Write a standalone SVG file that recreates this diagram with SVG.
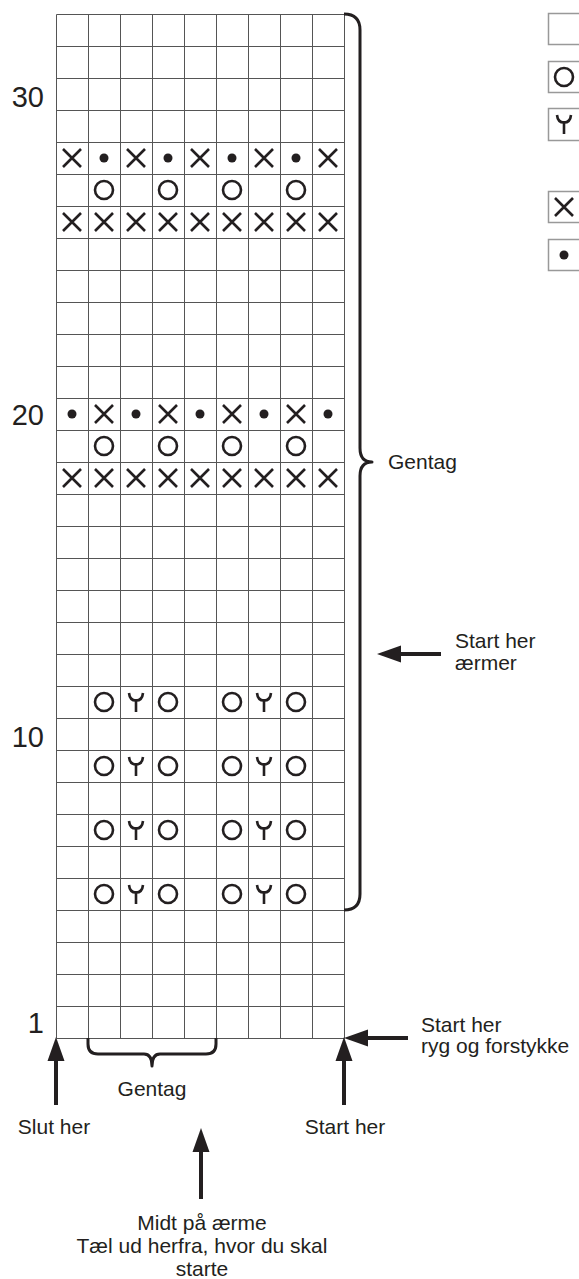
<svg xmlns="http://www.w3.org/2000/svg" xmlns:xlink="http://www.w3.org/1999/xlink" width="579" height="1279" viewBox="0 0 579 1279">
<style>
.grid{fill:none;stroke:#555;stroke-width:1}
.sym{fill:none;stroke:#231f20;stroke-width:2.6;stroke-linecap:butt}
.dot{fill:#231f20}
.lbl{font-family:"Liberation Sans",Arial,sans-serif;font-size:21px;fill:#231f20}
.num{font-family:"Liberation Sans",Arial,sans-serif;font-size:29px;fill:#231f20;text-anchor:end}
.brace{fill:none;stroke:#231f20;stroke-width:3;stroke-linejoin:round}
.arrow{fill:none;stroke:#231f20;stroke-width:4}
.key{fill:#fff;stroke:#999;stroke-width:1.5}
</style>
<defs>
<marker id="ah" viewBox="0 -9 24 18" refX="0" refY="0" markerWidth="24" markerHeight="18" markerUnits="userSpaceOnUse" orient="auto" overflow="visible">
<path d="M0,-8.5 L24,0 L0,8.5 z" fill="#231f20"/>
</marker>
<g id="sx"><path class="sym" d="M-9,-9 L9,9 M9,-9 L-9,9"/></g>
<g id="so"><circle class="sym" r="9" cx="0" cy="0"/></g>
<g id="sd"><circle class="dot" r="4.5" cx="0" cy="0"/></g>
<g id="sy"><path class="sym" d="M-7,-9 C-6.5,-4 -3.5,-1.5 0,-1.5 C3.5,-1.5 6.5,-4 7,-9" stroke-width="2.3"/><path class="sym" d="M0,-3 V10" stroke-width="4"/></g>
</defs>
<rect width="579" height="1279" fill="#fff"/>

<g id="chart">
<path class="grid" transform="translate(0.5 0.5)" d="M56 14V1038M88 14V1038M120 14V1038M152 14V1038M184 14V1038M216 14V1038M248 14V1038M280 14V1038M312 14V1038M344 14V1038
M56 14H344M56 46H344M56 78H344M56 110H344M56 142H344M56 174H344M56 206H344M56 238H344M56 270H344M56 302H344M56 334H344M56 366H344M56 398H344M56 430H344M56 462H344M56 494H344M56 526H344M56 558H344M56 590H344M56 622H344M56 654H344M56 686H344M56 718H344M56 750H344M56 782H344M56 814H344M56 846H344M56 878H344M56 910H344M56 942H344M56 974H344M56 1006H344M56 1038H344"/>
</g>

<g id="row28">
<use xlink:href="#sx" x="72" y="158"/><use xlink:href="#sd" x="104" y="158"/><use xlink:href="#sx" x="136" y="158"/><use xlink:href="#sd" x="168" y="158"/><use xlink:href="#sx" x="200" y="158"/><use xlink:href="#sd" x="232" y="158"/><use xlink:href="#sx" x="264" y="158"/><use xlink:href="#sd" x="296" y="158"/><use xlink:href="#sx" x="328" y="158"/>
</g>
<g id="row27">
<use xlink:href="#so" x="104" y="190"/><use xlink:href="#so" x="168" y="190"/><use xlink:href="#so" x="232" y="190"/><use xlink:href="#so" x="296" y="190"/>
</g>
<g id="row26">
<use xlink:href="#sx" x="72" y="222"/><use xlink:href="#sx" x="104" y="222"/><use xlink:href="#sx" x="136" y="222"/><use xlink:href="#sx" x="168" y="222"/><use xlink:href="#sx" x="200" y="222"/><use xlink:href="#sx" x="232" y="222"/><use xlink:href="#sx" x="264" y="222"/><use xlink:href="#sx" x="296" y="222"/><use xlink:href="#sx" x="328" y="222"/>
</g>
<g id="row20">
<use xlink:href="#sd" x="72" y="414"/><use xlink:href="#sx" x="104" y="414"/><use xlink:href="#sd" x="136" y="414"/><use xlink:href="#sx" x="168" y="414"/><use xlink:href="#sd" x="200" y="414"/><use xlink:href="#sx" x="232" y="414"/><use xlink:href="#sd" x="264" y="414"/><use xlink:href="#sx" x="296" y="414"/><use xlink:href="#sd" x="328" y="414"/>
</g>
<g id="row19">
<use xlink:href="#so" x="104" y="446"/><use xlink:href="#so" x="168" y="446"/><use xlink:href="#so" x="232" y="446"/><use xlink:href="#so" x="296" y="446"/>
</g>
<g id="row18">
<use xlink:href="#sx" x="72" y="478"/><use xlink:href="#sx" x="104" y="478"/><use xlink:href="#sx" x="136" y="478"/><use xlink:href="#sx" x="168" y="478"/><use xlink:href="#sx" x="200" y="478"/><use xlink:href="#sx" x="232" y="478"/><use xlink:href="#sx" x="264" y="478"/><use xlink:href="#sx" x="296" y="478"/><use xlink:href="#sx" x="328" y="478"/>
</g>
<g id="row11">
<use xlink:href="#so" x="104" y="702"/><use xlink:href="#sy" x="136" y="702"/><use xlink:href="#so" x="168" y="702"/><use xlink:href="#so" x="232" y="702"/><use xlink:href="#sy" x="264" y="702"/><use xlink:href="#so" x="296" y="702"/>
</g>
<g id="row9">
<use xlink:href="#so" x="104" y="766"/><use xlink:href="#sy" x="136" y="766"/><use xlink:href="#so" x="168" y="766"/><use xlink:href="#so" x="232" y="766"/><use xlink:href="#sy" x="264" y="766"/><use xlink:href="#so" x="296" y="766"/>
</g>
<g id="row7">
<use xlink:href="#so" x="104" y="830"/><use xlink:href="#sy" x="136" y="830"/><use xlink:href="#so" x="168" y="830"/><use xlink:href="#so" x="232" y="830"/><use xlink:href="#sy" x="264" y="830"/><use xlink:href="#so" x="296" y="830"/>
</g>
<g id="row5">
<use xlink:href="#so" x="104" y="894"/><use xlink:href="#sy" x="136" y="894"/><use xlink:href="#so" x="168" y="894"/><use xlink:href="#so" x="232" y="894"/><use xlink:href="#sy" x="264" y="894"/><use xlink:href="#so" x="296" y="894"/>
</g>

<g id="rownumbers">
<text class="num" x="44" y="107">30</text>
<text class="num" x="44" y="425">20</text>
<text class="num" x="44" y="747">10</text>
<text class="num" x="44" y="1033">1</text>
</g>

<g id="legend">
<rect class="key" x="548.5" y="13.5" width="32" height="31"/>
<rect class="key" x="548.5" y="61.5" width="32" height="31"/>
<use xlink:href="#so" x="564" y="77"/>
<rect class="key" x="548.5" y="108.5" width="32" height="32"/>
<use xlink:href="#sy" x="564" y="124"/>
<rect class="key" x="548.5" y="191.5" width="32" height="31"/>
<use xlink:href="#sx" x="564" y="207"/>
<rect class="key" x="548.5" y="239.5" width="32" height="31"/>
<use xlink:href="#sd" x="564" y="255"/>
</g>

<g id="connectors">
<path class="brace" d="M344,14 Q360,14 360,30 V448 Q360,462 372,462 Q360,462 360,476 V894 Q360,910 344,910"/>
<path class="brace" d="M88,1038 V1044 Q88,1054 98,1054 H144 Q152,1054 152,1066 Q152,1054 160,1054 H206 Q216,1054 216,1044 V1038"/>
<line class="arrow" x1="56" y1="1105" x2="56" y2="1061" marker-end="url(#ah)"/>
<line class="arrow" x1="344" y1="1105" x2="344" y2="1061" marker-end="url(#ah)"/>
<line class="arrow" x1="408" y1="1038" x2="368" y2="1038" marker-end="url(#ah)"/>
<line class="arrow" x1="441" y1="654" x2="401" y2="654" marker-end="url(#ah)"/>
<line class="arrow" x1="201" y1="1199" x2="201" y2="1152" marker-end="url(#ah)"/>
</g>

<g id="labels">
<text class="lbl" x="388" y="469">Gentag</text>
<text class="lbl" x="455" y="648">Start her</text>
<text class="lbl" x="455" y="670">ærmer</text>
<text class="lbl" x="421" y="1032">Start her</text>
<text class="lbl" x="421" y="1053">ryg og forstykke</text>
<text class="lbl" x="152" y="1096" text-anchor="middle">Gentag</text>
<text class="lbl" x="54" y="1134" text-anchor="middle">Slut her</text>
<text class="lbl" x="345" y="1134" text-anchor="middle">Start her</text>
<text class="lbl" x="202" y="1230" text-anchor="middle">Midt på ærme</text>
<text class="lbl" x="202" y="1253" text-anchor="middle">Tæl ud herfra, hvor du skal</text>
<text class="lbl" x="202" y="1276" text-anchor="middle">starte</text>
</g>
</svg>
